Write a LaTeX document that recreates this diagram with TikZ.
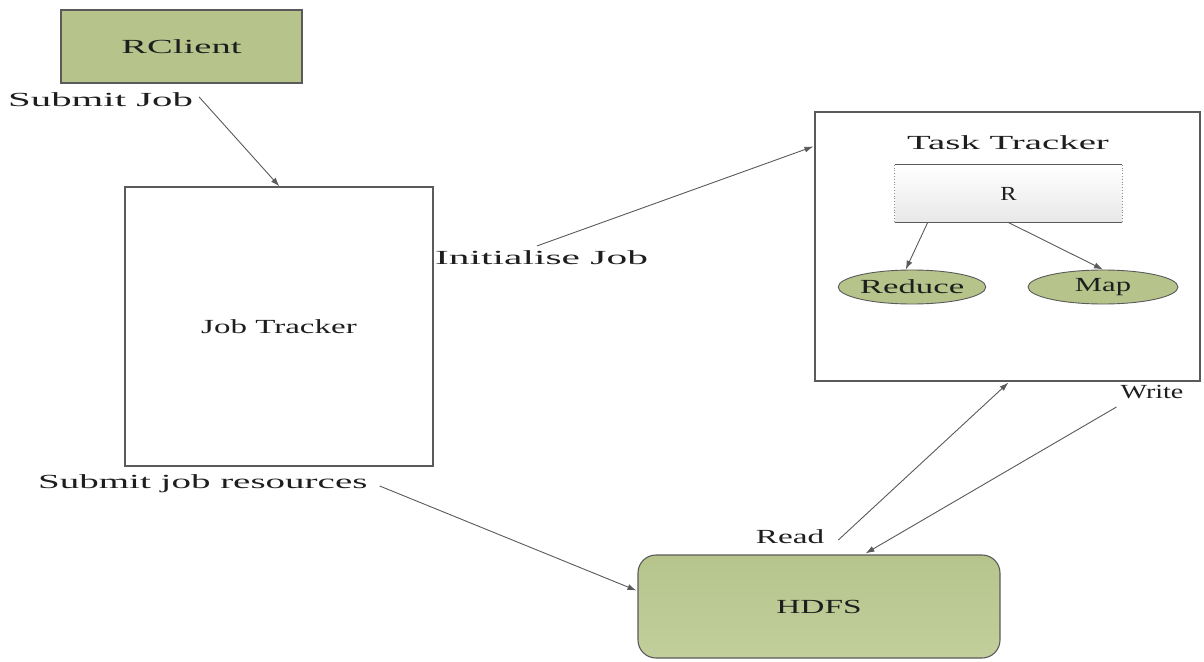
\documentclass[tikz,border=0pt]{standalone}
\usepackage{fontspec}
\setmainfont{Liberation Serif}
\usepackage{graphicx}
\usetikzlibrary{arrows.meta,shapes.geometric,calc}
\definecolor{oliv}{HTML}{B6C48C}
\definecolor{olivlight}{HTML}{C2CF9C}
\definecolor{lg}{HTML}{5A5A5A}
\definecolor{txt}{HTML}{1E1E1E}
\newcommand\hs[2]{\scalebox{#1}[1]{#2}}
\begin{document}
\begin{tikzpicture}[x=1pt,y=-1pt,
  box/.style={draw=lg, line width=1.1pt, inner sep=0pt},
  arr/.style={draw=lg, line width=0.9pt, -{Latex[length=9pt,width=6pt]}},
  lbl/.style={inner sep=0pt, text=txt, font=\fontsize{20}{22}\selectfont}]
\fill[white] (0,0) rectangle (1204,661);
\useasboundingbox (0,0) rectangle (1204,661);
% main boxes
\node[box, fill=oliv, minimum width=241pt, minimum height=73pt, lbl] (rc) at (181.5,46.5) {\hs{1.93}{RClient}};
\node[box, minimum width=308pt, minimum height=279pt] (jt) at (279,326.5) {};
\node[lbl] (jtl) at (jt.center) {\hs{1.65}{Job Tracker}};
\node[box, minimum width=385pt, minimum height=269pt] (tk) at (1007.5,246.5) {};
\node[lbl] (ttl) at (1008,143) {\hs{1.94}{Task Tracker}};
% R box
\node[inner sep=0pt, minimum width=227pt, minimum height=57pt, top color=white, bottom color=black!9, lbl] (rb) at (1008.5,193.5) {\hs{1.22}{R}};
\draw[lg, line width=0.8pt] (rb.north west) -- (rb.north east);
\draw[lg, line width=0.8pt] (rb.south west) -- (rb.south east);
\draw[lg!70, line width=0.8pt, dotted] (rb.north west) -- (rb.south west);
\draw[lg!70, line width=0.8pt, dotted] (rb.north east) -- (rb.south east);
% ellipses
\node[ellipse, draw=lg, line width=0.9pt, fill=oliv, inner sep=0pt, minimum width=146pt, minimum height=34pt, lbl] (red) at (912,287) {\hs{1.74}{Reduce}};
\node[ellipse, draw=lg, line width=0.9pt, fill=oliv, inner sep=0pt, minimum width=150pt, minimum height=34pt, lbl] (map) at (1103,287) {\hs{1.53}{Map}};
% HDFS
\node[draw=lg, line width=1.1pt, rounded corners=18pt, top color=oliv, bottom color=olivlight, minimum width=362pt, minimum height=103pt, inner sep=0pt, lbl] (hd) at (819,606.5) {\hs{1.67}{HDFS}};
% labels
\node[lbl, anchor=base west] (sj) at (8,106) {\hs{2.04}{Submit Job}};
\node[lbl, anchor=base west] (ij) at (435,264) {\hs{2.07}{Initialise Job}};
\node[lbl, anchor=base west] (sjr) at (38,488) {\hs{1.95}{Submit job resources}};
\node[lbl] (wr) at (1152,392) {\hs{1.4}{Write}};
\node[lbl] (rd) at (790,537) {\hs{1.66}{Read}};
% connector end points
\coordinate (a1s) at ($(sj.base east)+(6,-9)$);
\coordinate (a1e) at ($(jt.north west)+(155,0)$);
\coordinate (a2s) at ($(ij.north west)+(102,-4)$);
\coordinate (a2e) at ($(tk.north west)+(-1,35)$);
\coordinate (a3s) at ($(rb.south west)+(33,0)$);
\coordinate (a4s) at ($(rb.south west)+(113,0)$);
\coordinate (a5s) at ($(rd.east)+(14,3)$);
\coordinate (a5e) at ($(tk.south west)+(194,1)$);
\coordinate (a6s) at ($(wr.south west)+(-4,8)$);
\coordinate (a6e) at ($(hd.north west)+(228,-1)$);
\coordinate (a7s) at ($(sjr.base east)+(12,-2)$);
\coordinate (a7e) at ($(hd.west)+(-1,-16)$);
% connectors
\draw[arr] (a1s) -- (a1e);
\draw[arr] (a2s) -- (a2e);
\draw[arr] (a3s) -- (red.110);
\draw[arr] (a4s) -- (map.north);
\draw[arr] (a5s) -- (a5e);
\draw[arr] (a6s) -- (a6e);
\draw[arr] (a7s) -- (a7e);
\end{tikzpicture}
\end{document}
